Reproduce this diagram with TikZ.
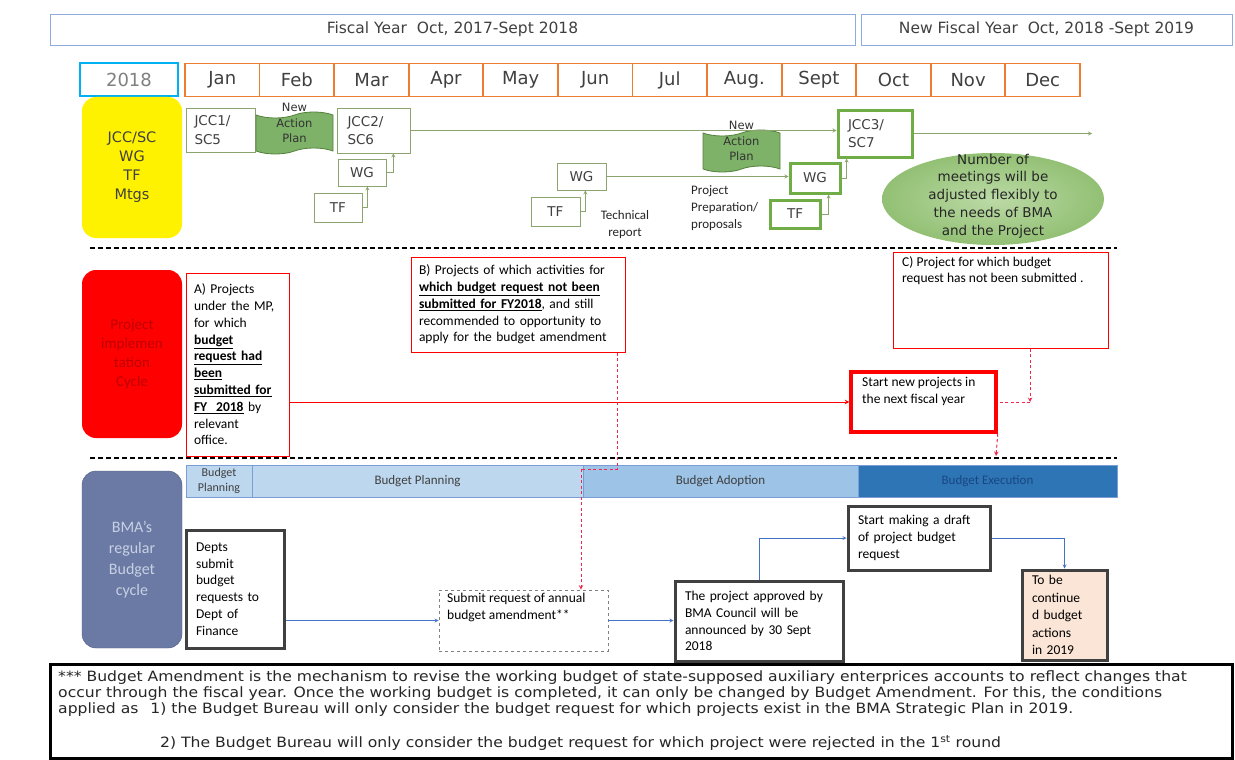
\documentclass[tikz,border=0pt]{standalone}
\usepackage{fontspec}
\setmainfont{Carlito}
\newfontfamily\gothic{DejaVu Sans}
\newfontfamily\notefont[FakeStretch=1.1]{DejaVu Sans}
\usetikzlibrary{shapes.geometric,shapes.symbols}

\definecolor{hdrblue}{RGB}{143,170,220}
\definecolor{monthorange}{RGB}{237,125,49}
\definecolor{yearcyan}{RGB}{0,176,240}
\definecolor{mtggreen}{RGB}{112,173,71}
\definecolor{thingreen}{RGB}{140,165,110}
\definecolor{flaggreen}{RGB}{126,178,104}
\definecolor{flagedge}{RGB}{84,130,60}
\definecolor{ovalin}{RGB}{188,218,166}
\definecolor{ovalout}{RGB}{146,192,116}
\definecolor{projred}{RGB}{255,0,0}
\definecolor{projtext}{RGB}{190,0,0}
\definecolor{reddash}{RGB}{240,40,80}
\definecolor{bmaslate}{RGB}{106,122,164}
\definecolor{bmatext}{RGB}{200,208,228}
\definecolor{barlight}{RGB}{189,215,238}
\definecolor{barmid}{RGB}{157,195,230}
\definecolor{bardark}{RGB}{46,117,182}
\definecolor{bartext}{RGB}{25,70,130}
\definecolor{flowblue}{RGB}{68,114,196}
\definecolor{peach}{RGB}{251,229,214}
\definecolor{inkgray}{RGB}{64,64,64}

\begin{document}
\begin{tikzpicture}[x=1pt,y=-1pt,
  hdrbox/.style={draw=hdrblue, line width=0.9pt, minimum height=31, inner sep=0pt,
    font=\gothic\fontsize{15.5}{17}\selectfont, text=inkgray},
  monthbox/.style={draw=monthorange, line width=1.8pt, minimum width=74.6, minimum height=33,
    inner sep=0pt, font=\gothic\fontsize{18}{20}\selectfont, text=inkgray},
  lanebox/.style={rounded corners=14pt, minimum width=100, inner sep=0pt, align=center},
  mtgbox/.style={draw=thingreen, line width=0.8pt, inner sep=0pt, text=inkgray,
    font=\gothic\fontsize{13.5}{18.5}\selectfont},
  mtgbold/.style={mtgbox, draw=mtggreen, line width=3pt},
  flagtape/.style={tape, draw=flagedge, fill=flaggreen, line width=0.8pt, minimum width=77,
    minimum height=42, inner sep=0pt, tape bend height=6pt},
  flagtext/.style={align=center, inner sep=0pt, font=\gothic\fontsize{11.5}{15.5}\selectfont, text=black!80},
  smalltext/.style={inner sep=0pt, font=\fontsize{13}{17}\selectfont, text=black!85},
  mtgarrow/.style={draw=thingreen, line width=0.8pt, -stealth},
  sepline/.style={dash pattern=on 5pt off 3pt, line width=1.3pt},
  projbox/.style={draw=projred, line width=1pt, inner xsep=8pt, inner ysep=0pt, align=left,
    font=\fontsize{13.5}{16.8}\selectfont},
  boxtext/.style={inner sep=0pt, align=left, font=\fontsize{13.5}{16.8}\selectfont},
  redarrow/.style={draw=projred, line width=1pt, -stealth},
  reddashed/.style={draw=reddash, line width=1pt, dash pattern=on 3pt off 2.5pt},
  barseg/.style={draw=flowblue!70, line width=0.8pt, minimum height=32, inner sep=0pt, align=center,
    font=\fontsize{13}{15}\selectfont, text=inkgray},
  flowbox/.style={draw=inkgray, line width=3pt, inner xsep=10pt, inner ysep=0pt, align=left,
    font=\fontsize{13.5}{16.8}\selectfont},
  flowarrow/.style={draw=flowblue, line width=0.8pt, -stealth},
  notetext/.style={inner sep=0pt, align=left, font=\notefont\fontsize{14.2}{16}\selectfont, text=black!85}
]
\path[use as bounding box, fill=white] (0,0) rectangle (1235,760);

% fiscal years and months
\node[hdrbox, minimum width=805] (fy1) at (452.5,29.5) {Fiscal Year\ \ Oct, 2017-Sept 2018};
\node[hdrbox, minimum width=371] (fy2) at (1046.5,29.5) {New Fiscal Year\ \ Oct, 2018 -Sept 2019};
\node[monthbox, draw=yearcyan, minimum width=98, text=gray] (yr) at (129,79.5) {2018};
\foreach \mon [count=\i] in {Jan,Feb,Mar,Apr,May,Jun,Jul,Aug.,Sept,Oct,Nov,Dec}
  \node[monthbox] (m\i) at ({185+74.58*(\i-0.5)},80) {\mon};

% meetings row
\node[lanebox, fill=yellow, minimum height=141, font=\gothic\fontsize{14.5}{19}\selectfont, text=inkgray]
  (laneMtg) at (132,167.5) {JCC/SC\\WG\\TF\\Mtgs};
\node[mtgbox, minimum width=69, minimum height=44, text width=52, align=left] (jcc1) at (220.5,130) {JCC1/\\SC5};
\node[flagtape] (flag1) at (294.5,133) {};
\node[flagtext] (flag1t) at (294.5,123) {New\\Action\\Plan};
\node[mtgbox, minimum width=73, minimum height=45, text width=52, align=left] (jcc2) at (373.5,130.5) {JCC2/\\SC6};
\node[mtgbox, minimum width=48, minimum height=27] (wg1) at (362,172.5) {WG};
\node[mtgbox, minimum width=48, minimum height=29] (tf1) at (338,207.5) {TF};
\node[mtgbox, minimum width=49, minimum height=27] (wgm) at (581.5,176.5) {WG};
\node[mtgbox, minimum width=49, minimum height=29] (tfm) at (555.5,211.5) {TF};
\node[smalltext, align=center] (tech) at (625,225) {Technical\\report};
\node[flagtape] (flag2) at (741.5,151) {};
\node[flagtext] (flag2t) at (741.5,141) {New\\Action\\Plan};
\node[smalltext, align=left, anchor=west] (prep) at (691,208) {Project\\Preparation/\\proposals};
\node[mtgbold, minimum width=50, minimum height=30] (wg2) at (815,178) {WG};
\node[mtgbold, minimum width=50, minimum height=28] (tf2) at (795,214) {TF};
\node[mtgbold, minimum width=74, minimum height=47, text width=54, align=left] (jcc3) at (875,133.5) {JCC3/\\SC7};
\node[ellipse, inner color=ovalin, outer color=ovalout, minimum width=222, minimum height=92] (oval) at (993,199) {};
\node[inner sep=0pt, align=center, font=\gothic\fontsize{13.5}{17.8}\selectfont, text=black!85] (ovalt) at (993,196)
  {Number of\\meetings will be\\adjusted flexibly to\\the needs of BMA\\and the Project};
\coordinate (mtgEnd) at (1092,137);

\draw[mtgarrow] (jcc2.east) -- (jcc2.east -| jcc3.west);
\draw[mtgarrow] (jcc3.east) -- (jcc3.east -| mtgEnd);
\draw[mtgarrow] (wg1.east) -| ([xshift=7pt]wg1.east |- jcc2.south);
\draw[mtgarrow] (tf1.east) -| ([xshift=5pt]tf1.east |- wg1.south);
\draw[mtgarrow] (tfm.east) -| ([xshift=5pt]tfm.east |- wgm.south);
\draw[mtgarrow] (wgm.east) -- (wgm.east -| wg2.west);
\draw[mtgarrow] (tf2.east) -| ([xshift=7pt]tf2.east |- wg2.south);
\draw[mtgarrow] (wg2.east) -| ([xshift=5pt]wg2.east |- jcc3.south);

\draw[sepline] (90,248) -- (1117,248);

% project implementation row
\node[lanebox, fill=projred, minimum height=168, font=\fontsize{15}{19}\selectfont, text=projtext]
  (laneProj) at (132,354) {Project\\implemen\\tation\\Cycle};
\node[projbox, text width=87, minimum height=183] (pA) at (237.5,364.5)
  {A) Projects\\under the MP,\\for which\\\underline{\textbf{budget}}\\\underline{\textbf{request had}}\\
   \underline{\textbf{been}}\\\underline{\textbf{submitted for}}\\\underline{\textbf{FY\ \ 2018}} by\\relevant\\office.};
\node[projbox, text width=198, minimum height=95] (pB) at (518,304.5)
  {B) Projects of which activities for\\\underline{\textbf{which budget request not been}}\\
   \underline{\textbf{submitted for FY2018}}, and still\\recommended to opportunity to\\apply for the budget amendment};
\node[projbox, minimum width=215, minimum height=96] (pC) at (1000.5,300) {};
\node[boxtext, anchor=north west] (pCt) at (902,256) {C) Project for which budget\\request has not been submitted .};
\node[projbox, line width=3.5pt, minimum width=145, minimum height=60] (pStart) at (923.5,402) {};
\node[boxtext, anchor=north west] (pStartt) at (862,377) {Start new projects in\\the next fiscal year};
\coordinate (cTurn) at (1030,402);
\coordinate (sEnd) at (996,456);
\coordinate (bTurn) at (617,469);
\coordinate (bDrop) at (581,469);

\draw[redarrow] (pA.east |- pStart.west) -- (pStart.west);
\draw[reddashed, -stealth] (pC.south -| cTurn) -- (cTurn);
\draw[reddashed] (cTurn) -- (pStart.east);
\draw[reddashed, -stealth] (pStart.south east) -- (sEnd);

\draw[sepline] (90,458) -- (1117,458);

% budget cycle row
\node[lanebox, fill=bmaslate, draw=bmaslate!80!black, minimum height=177, font=\fontsize{16}{21}\selectfont, text=bmatext]
  (laneBMA) at (132,559.5) {BMA's\\regular\\Budget\\cycle};
\node[barseg, fill=barlight, minimum width=66, font=\fontsize{12}{14.5}\selectfont] (bar1) at (219,481) {Budget\\Planning};
\node[barseg, fill=barlight, minimum width=331] (bar2) at (417.5,481) {Budget Planning};
\node[barseg, fill=barmid, minimum width=275] (bar3) at (720.5,481) {Budget Adoption};
\node[barseg, fill=bardark, minimum width=259, text=bartext] (bar4) at (987.5,481) {Budget Execution};
\node[flowbox, text width=78, minimum height=118] (pDepts) at (235,589)
  {Depts\\submit\\budget\\requests to\\Dept of\\Finance};
\node[draw=gray, line width=0.8pt, dashed, minimum width=169, minimum height=61, inner sep=0pt] (pSub) at (523.5,620.5) {};
\node[boxtext, anchor=north west] (pSubt) at (447,593) {Submit request of annual\\budget amendment**};
\node[flowbox, text width=148, minimum height=80] (pApp) at (759,621)
  {The project approved by\\BMA Council will be\\announced by 30 Sept\\2018};
\node[flowbox, text width=122, minimum height=64] (pDraft) at (919,538)
  {Start making a draft\\of project budget\\request};
\node[flowbox, fill=peach, text width=65, minimum height=90, font=\fontsize{13.5}{17.5}\selectfont] (pTbc) at (1064.5,615)
  {To be\\continue\\d budget\\actions\\in 2019};

\draw[reddashed] (pB.south -| bTurn) -- (bTurn) -- (bDrop);
\draw[reddashed, -stealth] (bDrop) -- (bDrop |- pSub.north);
\draw[flowarrow] (pDepts.east |- pSub.west) -- (pSub.west);
\draw[flowarrow] (pSub.east) -- (pSub.east -| pApp.west);
\draw[flowarrow] (pApp.north) |- (pDraft.west);
\draw[flowarrow] (pDraft.east) -| (pTbc.north);

% note
\node[draw=black, line width=3pt, minimum width=1182, minimum height=94] (note) at (641,711) {};
\node[notetext, anchor=north west] (noteA) at (58,671)
  {*** Budget Amendment is the mechanism to revise the working budget of state-supposed auxiliary enterprices accounts to reflect changes that\\
   occur through the fiscal year. Once the working budget is completed, it can only be changed by Budget Amendment. For this, the conditions\\
   applied as\hspace{12pt}1) the Budget Bureau will only consider the budget request for which projects exist in the BMA Strategic Plan in 2019.};
\node[notetext, anchor=west] (noteB) at (160,743)
  {2) The Budget Bureau will only consider the budget request for which project were rejected in the 1\textsuperscript{st} round};
\end{tikzpicture}
\end{document}
